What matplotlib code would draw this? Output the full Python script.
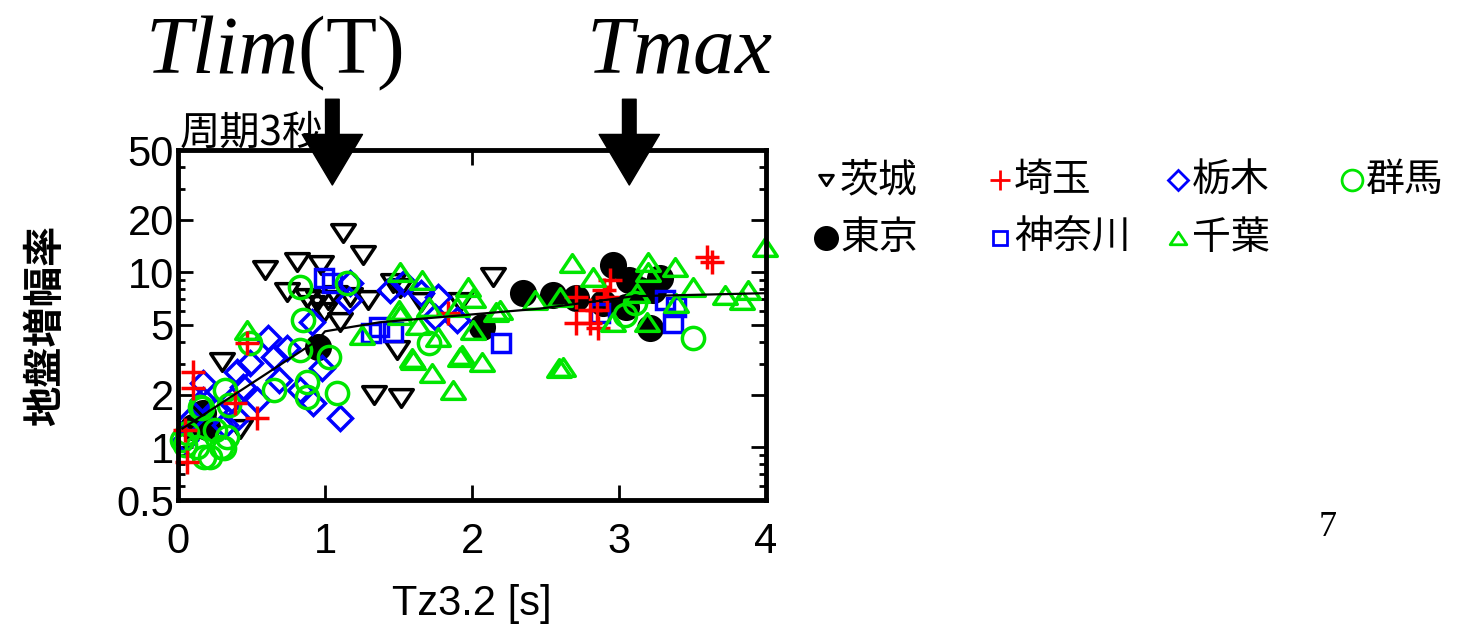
import matplotlib
matplotlib.use('Agg')
import matplotlib.pyplot as plt
from matplotlib.lines import Line2D
from matplotlib.path import Path
from matplotlib.ticker import NullFormatter

plt.rcParams['font.family'] = ['Liberation Sans', 'Noto Sans CJK JP']
plt.rcParams['mathtext.fontset'] = 'custom'
plt.rcParams['mathtext.it'] = 'Liberation Serif:italic'
plt.rcParams['mathtext.rm'] = 'Liberation Serif'

# --- data (period Tz3.2 [s], amplification) ---
ibaraki_x = [0.30, 0.42, 0.59, 0.81, 0.97, 1.12, 1.26, 0.74, 0.91, 0.95, 1.02, 0.99,
             1.17, 1.29, 1.10, 1.46, 1.51, 1.65, 1.92, 2.14, 1.49, 1.33, 1.52, 1.07, 0.88]
ibaraki_y = [3.06, 1.28, 10.3, 11.4, 11.0, 16.7, 12.5, 7.69, 6.48, 6.92, 6.92, 5.91,
             7.2, 6.92, 5.18, 8.65, 8.11, 6.74, 6.74, 9.36, 3.58, 1.98, 1.91, 7.39, 7.1]

saitama_x = [0.10, 0.10, 0.54, 0.47, 0.06, 0.05, 0.39, 1.84, 3.60, 3.63, 2.71, 2.94,
             2.92, 2.80, 2.85, 2.71, 2.86, 2.80, 2.90]
saitama_y = [2.68, 2.17, 1.47, 3.93, 0.82, 1.25, 1.78, 5.83, 12.2, 11.4, 7.2, 9.0,
             7.2, 5.11, 6.07, 5.11, 4.79, 6.07, 7.89]

tochigi_x = [1.10, 0.98, 0.92, 0.91, 0.61, 0.74, 0.49, 0.40, 0.54, 0.37, 0.17, 0.17,
             0.08, 0.40, 0.44, 0.65, 0.69, 0.83, 1.17, 1.54, 1.65, 1.77, 1.75, 1.90,
             1.44, 1.16, 0.05, 0.25, 0.32]
tochigi_y = [1.47, 2.83, 1.78, 5.18, 4.20, 3.68, 3.02, 2.68, 1.86, 1.86, 2.32, 1.86,
             1.43, 1.47, 2.20, 3.27, 2.41, 2.12, 8.65, 8.65, 7.59, 7.2, 5.53, 5.32,
             7.89, 6.92, 1.10, 1.63, 1.34]

gunma_x = [0.85, 0.49, 0.83, 1.03, 0.65, 0.88, 0.88, 1.08, 0.32, 0.15, 0.06, 0.13,
           0.29, 0.22, 0.33, 0.83, 1.15, 1.71, 3.50, 3.04, 3.11, 0.05, 0.25, 0.16,
           0.03, 0.31, 0.18, 0.35]
gunma_y = [5.32, 3.93, 3.58, 3.27, 2.12, 2.35, 1.93, 2.04, 2.12, 1.69, 1.20, 1.0,
           1.0, 0.88, 1.14, 8.21, 8.65, 3.93, 4.20, 5.68, 6.65, 1.03, 1.25, 1.67,
           1.10, 0.99, 0.88, 1.74]

tokyo_x = [0.95, 0.17, 0.10, 0.20, 2.07, 2.35, 2.55, 2.71, 2.96, 3.07, 3.23, 3.28,
           3.21, 3.05, 2.89, 3.14]
tokyo_y = [3.73, 1.58, 1.30, 1.30, 4.85, 7.59, 7.39, 7.1, 11.0, 9.0, 7.89, 9.24,
           4.79, 6.31, 6.65, 7.89]

kanagawa_x = [0.99, 1.05, 1.37, 1.46, 1.31, 2.20, 3.39, 3.37, 2.87, 3.31]
kanagawa_y = [9.24, 8.65, 4.85, 4.54, 4.48, 3.93, 6.31, 5.11, 5.83, 6.92]

chiba_x = [0.47, 1.25, 1.51, 1.66, 1.50, 1.71, 1.97, 2.01, 2.16, 1.90, 2.43, 1.51,
           1.60, 1.73, 1.87, 1.93, 2.07, 2.01, 1.77, 2.19, 2.59, 1.63, 1.59, 1.92,
           2.68, 2.82, 3.20, 3.38, 3.50, 3.72, 3.84, 3.88, 3.99, 3.20, 3.39, 3.19,
           2.96, 2.60, 3.12, 2.62]
chiba_y = [4.66, 4.37, 10.0, 9.0, 6.07, 6.31, 8.21, 7.1, 5.91, 6.31, 6.92, 5.68,
           3.14, 2.65, 2.12, 3.35, 3.06, 4.66, 4.25, 6.07, 2.83, 4.98, 3.22, 3.27,
           11.3, 9.36, 11.4, 10.7, 8.21, 7.39, 6.92, 7.89, 13.9, 10.0, 6.65, 5.18,
           5.18, 7.2, 7.59, 2.86]

fit_x = [0.03, 0.95, 1.0, 1.37, 2.46, 3.1, 4.0]
fit_y = [1.28, 4.09, 4.6, 5.18, 6.2, 7.3, 7.6]

tlim_period = 1.05
tmax_period = 3.07

ytick_vals = [0.5, 1, 2, 5, 10, 20, 50]
ytick_labels = ['0.5', '1', '2', '5', '10', '20', '50']
yminor_vals = [0.6, 0.7, 0.8, 0.9, 3, 4, 6, 7, 8, 9, 30, 40]
xtick_vals = [0, 1, 2, 3, 4]

GREEN = '#00e600'
tri_down = Path([(-1, 0.75), (1, 0.75), (0, -0.75), (-1, 0.75)], closed=True)
tri_up = Path([(-1, -0.75), (1, -0.75), (0, 0.75), (-1, -0.75)], closed=True)

# name, x, y, marker, color, filled, size, legend size
ibaraki = ('茨城', ibaraki_x, ibaraki_y, tri_down, 'black', False, 17, 10)
saitama = ('埼玉', saitama_x, saitama_y, '+', 'red', False, 17, 14)
tochigi = ('栃木', tochigi_x, tochigi_y, 'D', 'blue', False, 12.5, 10)
gunma = ('群馬', gunma_x, gunma_y, 'o', GREEN, False, 16, 15)
tokyo = ('東京', tokyo_x, tokyo_y, 'o', 'black', True, 17, 16)
kanagawa = ('神奈川', kanagawa_x, kanagawa_y, 's', 'blue', False, 13.5, 10)
chiba = ('千葉', chiba_x, chiba_y, tri_up, GREEN, False, 17, 12)

draw_order = [tokyo, ibaraki, tochigi, kanagawa, gunma, saitama, chiba]
legend_order = [ibaraki, saitama, tochigi, gunma, tokyo, kanagawa, chiba]

fig = plt.figure(figsize=(14.66, 6.3), dpi=100)
ax = fig.add_axes([178 / 1466, 130 / 630, 588 / 1466, 350 / 630])

for name, xs, ys, mk, col, filled, ms, _ in draw_order:
    ax.plot(xs, ys, ls='none', marker=mk, ms=ms, mew=2.5,
            mec=col, mfc=col if filled else 'none', clip_on=False)

ax.plot(fit_x, fit_y, color='black', lw=1.6, zorder=5)

ax.set_yscale('log')
ax.set_xlim(0, 4)
ax.set_ylim(0.5, 50)
ax.set_yticks(ytick_vals)
ax.set_yticklabels(ytick_labels)
ax.set_yticks(yminor_vals, minor=True)
ax.yaxis.set_minor_formatter(NullFormatter())
ax.set_xticks(xtick_vals)
ax.set_xticks([], minor=True)
ax.tick_params(which='both', direction='in', top=True, right=True, width=2,
               labelsize=30)
ax.tick_params(which='major', length=11)
ax.tick_params(which='minor', length=5)
ax.tick_params(axis='y', pad=3)
ax.tick_params(axis='x', pad=16)
for sp in ax.spines.values():
    sp.set_linewidth(3.5)

ax.set_xlabel('Tz3.2 [s]', fontsize=30)
ax.xaxis.set_label_coords(0.5, -0.24)
ax.set_ylabel('地盤増幅率', fontsize=29, family='Noto Sans CJK JP', weight='bold')
ax.yaxis.set_label_coords(-0.19, 0.5)

# arrows for Tlim and Tmax
arrow_style = 'simple,head_length=2.6,head_width=3.1,tail_width=0.7'
for xp in (tlim_period, tmax_period):
    ax.annotate('', xy=(xp, 0.9), xycoords=('data', 'axes fraction'),
                xytext=(xp, 1.145), textcoords=('data', 'axes fraction'),
                arrowprops=dict(arrowstyle=arrow_style, mutation_scale=14,
                                fc='black', ec='black', shrinkA=0, shrinkB=0),
                annotation_clip=False)

fig.text(274 / 1466, 1 - 73 / 630, r'$Tlim$(T)', fontsize=60,
         family='Liberation Serif', ha='center', va='baseline')
fig.text(679 / 1466, 1 - 73 / 630, r'$Tmax$', fontsize=60,
         family='Liberation Serif', ha='center', va='baseline')
fig.text(180 / 1466, 1 - 145 / 630, '周期3秒', fontsize=29,
         family=['Noto Sans CJK JP'], va='baseline')
fig.text(1328 / 1466, 1 - 527 / 630, '7', fontsize=26,
         family='Liberation Serif', ha='center', va='center')

# legend laid out in fixed columns like the original slide
col_x = [826, 1000, 1178, 1352]
row_y = [180, 238]
slots = [(0, 0), (1, 0), (2, 0), (3, 0), (0, 1), (1, 1), (2, 1)]
for (ci, ri), s in zip(slots, legend_order):
    name, _, _, mk, col, filled, _, lms = s
    fx = col_x[ci] / 1466
    fy = 1 - row_y[ri] / 630
    fig.add_artist(Line2D([fx], [fy], transform=fig.transFigure, ls='none',
                          marker=mk, ms=lms, mew=2, mec=col,
                          mfc=col if filled else 'none'))
    fig.text(fx + 14 / 1466, fy, name, fontsize=28, family=['Noto Sans CJK JP'],
             va='center', ha='left')

fig.savefig('out.png', dpi=100, facecolor='white')
